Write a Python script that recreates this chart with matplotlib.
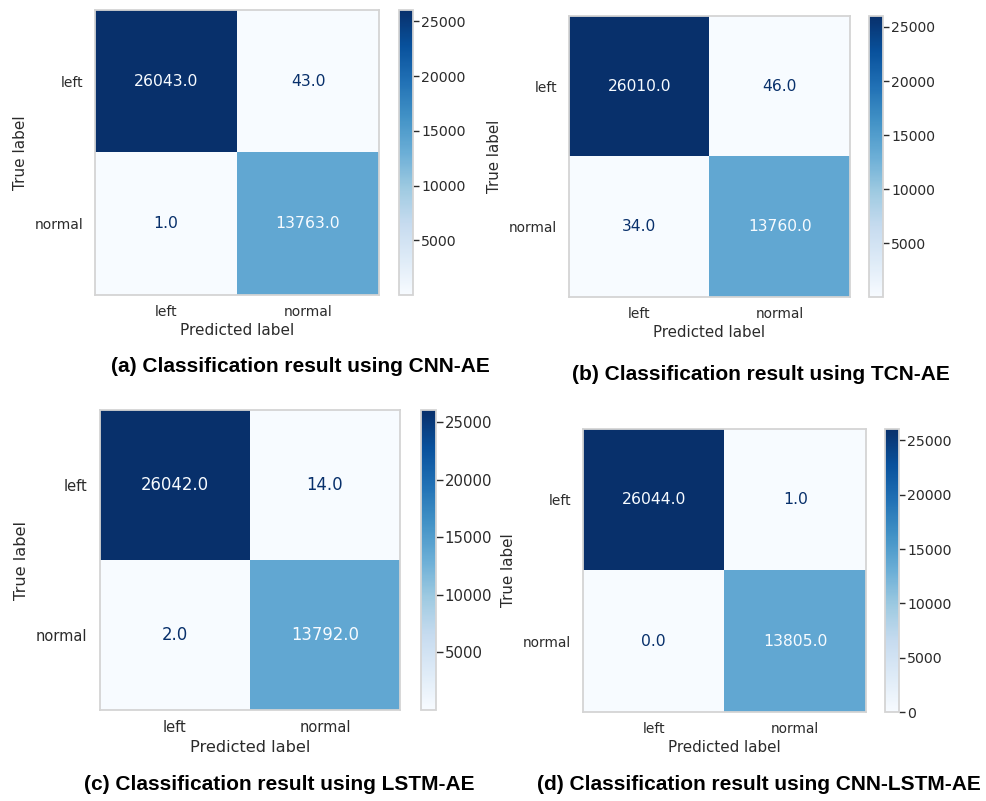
import numpy as np
import matplotlib
matplotlib.use('Agg')
import matplotlib.pyplot as plt

# confusion matrices (rows = true label, cols = predicted)
class_labels = ['left', 'normal']
cm_cnn_ae = [[26043, 43], [1, 13763]]
cm_tcn_ae = [[26010, 46], [34, 13760]]
cm_lstm_ae = [[26042, 14], [2, 13792]]
cm_cnn_lstm_ae = [[26044, 1], [0, 13805]]
captions = ['(a) Classification result using CNN-AE',
            '(b) Classification result using TCN-AE',
            '(c) Classification result using LSTM-AE',
            '(d) Classification result using CNN-LSTM-AE']

W, H = 987, 801
TEXT = '#2b2b2b'
EDGE = '#d4d4d4'

# pixel boxes: heatmap (x0, y0, x1, y1), colorbar (x0, x1), caption centre (x, y)
panels = [
    (cm_cnn_ae, (95, 10, 379, 295), (399, 413), (300, 367)),
    (cm_tcn_ae, (569, 16, 850, 297), (869, 883), (761, 375)),
    (cm_lstm_ae, (100, 410, 400, 710), (421, 436), (279, 785)),
    (cm_cnn_lstm_ae, (583, 429, 866, 712), (885, 899), (759, 785)),
]


def px_box(x0, y0, x1, y1):
    return [x0 / W, 1 - y1 / H, (x1 - x0) / W, (y1 - y0) / H]


plt.rcParams['font.family'] = 'DejaVu Sans'
fig = plt.figure(figsize=(W / 100, H / 100), dpi=100)

for (cm, box, cb, cap), title in zip(panels, captions):
    cm = np.array(cm, dtype=float)
    s = (box[2] - box[0]) / 285.0
    ax = fig.add_axes(px_box(*box))
    im = ax.imshow(cm, cmap='Blues', vmin=cm.min(), vmax=cm.max(),
                   interpolation='nearest', aspect='auto')

    # text colour like sklearn's ConfusionMatrixDisplay
    thresh = (cm.max() + cm.min()) / 2.0
    for i in range(cm.shape[0]):
        for j in range(cm.shape[1]):
            color = im.cmap(0.0) if cm[i, j] > thresh else im.cmap(1.0)
            ax.text(j, i, '{:.1f}'.format(cm[i, j]), ha='center', va='center',
                    color=color, fontsize=11.3 * s)

    ax.set_xticks(range(len(class_labels)))
    ax.set_yticks(range(len(class_labels)))
    ax.set_xticklabels(class_labels)
    ax.set_yticklabels(class_labels)
    ax.tick_params(axis='both', length=0, labelsize=10 * s, colors=TEXT)
    ax.tick_params(axis='x', pad=7 * s)
    ax.tick_params(axis='y', pad=8.5 * s)
    ax.set_xlabel('Predicted label', fontsize=11 * s, color=TEXT, labelpad=3 * s)
    ax.set_ylabel('True label', fontsize=11 * s, color=TEXT, labelpad=5 * s)
    for sp in ax.spines.values():
        sp.set_color(EDGE)
        sp.set_linewidth(1.3)

    cax = fig.add_axes(px_box(cb[0], box[1], cb[1], box[3]))
    cbar = fig.colorbar(im, cax=cax)
    cbar.outline.set_edgecolor(EDGE)
    cbar.outline.set_linewidth(1.3)
    cax.tick_params(length=4.5 * s, width=1, color=TEXT, labelcolor=TEXT,
                    labelsize=10.2 * s, pad=1.5)

    fig.text(cap[0] / W, 1 - cap[1] / H, title, ha='center', va='center',
             fontsize=15, fontweight='bold', family='Liberation Sans', color='black')

fig.savefig('out.png', dpi=100)
